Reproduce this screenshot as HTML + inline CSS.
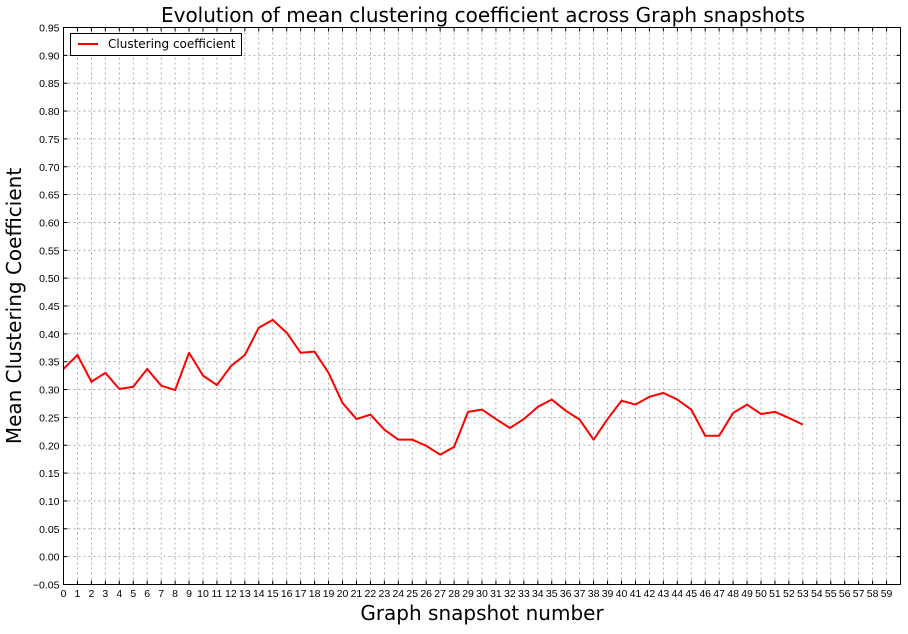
<!DOCTYPE html>
<html><head><meta charset="utf-8"><style>
body{margin:0;background:#fff;font-family:"DejaVu Sans",sans-serif;}
svg text{font-family:"DejaVu Sans",sans-serif;}
svg text.tk{font-family:"Liberation Sans",sans-serif;}
</style></head><body>
<svg id="chart" width="908" height="630" xmlns="http://www.w3.org/2000/svg">
<rect width="908" height="630" fill="#fff"/>
<text x="483" y="22" font-size="20" text-anchor="middle">Evolution of mean clustering coefficient across Graph snapshots</text>
<text transform="translate(21,306) rotate(-90)" font-size="20" text-anchor="middle">Mean Clustering Coefficient</text>
<text x="482" y="620" font-size="20" text-anchor="middle">Graph snapshot number</text>
<g id="grid"></g><g id="ticks"></g><g id="series"></g>
<rect x="63.5" y="27.5" width="837" height="557" fill="none" stroke="#000" stroke-width="1"/>
<g>
<rect x="70.5" y="33.5" width="171" height="22" fill="#fff" stroke="#000"/>
<line x1="78" y1="44" x2="98" y2="44" stroke="#f00" stroke-width="2"/>
<text x="108" y="48" font-size="12">Clustering coefficient</text>
</g>
</svg>
<script>
const snapshots=[...Array(54).keys()];
const values=[0.337,0.362,0.314,0.330,0.301,0.305,0.337,0.307,0.299,0.366,0.325,0.308,0.342,0.362,0.411,0.425,0.402,0.366,0.368,0.330,0.276,0.247,0.255,0.228,0.210,0.210,0.199,0.183,0.197,0.260,0.264,0.247,0.231,0.247,0.269,0.282,0.262,0.246,0.210,0.247,0.280,0.273,0.287,0.294,0.282,0.264,0.217,0.217,0.258,0.273,0.256,0.260,0.249,0.237];
const xTicks=[...Array(60).keys()];
const yTicks=["-0.05","0.00","0.05","0.10","0.15","0.20","0.25","0.30","0.35","0.40","0.45","0.50","0.55","0.60","0.65","0.70","0.75","0.80","0.85","0.90","0.95"];
const L=63.5,R=900.5,T=27.5,B=584.5;
const xs=v=>L+(v/60)*(R-L);
const ys=v=>B-((v+0.05)/1.0)*(B-T);
const NS="http://www.w3.org/2000/svg";
const grid=document.getElementById('grid'),ticks=document.getElementById('ticks'),ser=document.getElementById('series');
function mk(tag,attrs,parent){const e=document.createElementNS(NS,tag);for(const k in attrs)e.setAttribute(k,attrs[k]);parent.appendChild(e);return e;}
xTicks.forEach(t=>{const x=xs(t);
 const g=mk('line',{x1:x,x2:x,y1:T,y2:B,stroke:'#999','stroke-dasharray':'2,3','stroke-width':0.8},grid);
 
 
 mk('line',{x1:x,x2:x,y1:B,y2:B-4,stroke:'#000'},ticks);
 mk('line',{x1:x,x2:x,y1:T,y2:T+4,stroke:'#000'},ticks);
 const tx=mk('text',{x:x,y:597,'font-size':10.5,'text-anchor':'middle','class':'tk'},ticks);tx.textContent=t;
 
 
});
yTicks.forEach(t=>{const y=ys(parseFloat(t));
 const g=mk('line',{x1:L,x2:R,y1:y,y2:y,stroke:'#999','stroke-dasharray':'2,3','stroke-width':0.8},grid);
 
 
 mk('line',{x1:L,x2:L+4,y1:y,y2:y,stroke:'#000'},ticks);
 mk('line',{x1:R,x2:R-4,y1:y,y2:y,stroke:'#000'},ticks);
 const tx=mk('text',{x:L-4,y:y+4,'font-size':10.5,'text-anchor':'end','class':'tk'},ticks);tx.textContent=t.replace('-','\u2212');
 
 
});
const pts=snapshots.map((s,i)=>xs(s)+','+ys(values[i])).join(' ');
const pl=mk('polyline',{points:pts,fill:'none',stroke:'#f00','stroke-width':2,'stroke-linejoin':'round'},ser);


</script>
</body></html>
